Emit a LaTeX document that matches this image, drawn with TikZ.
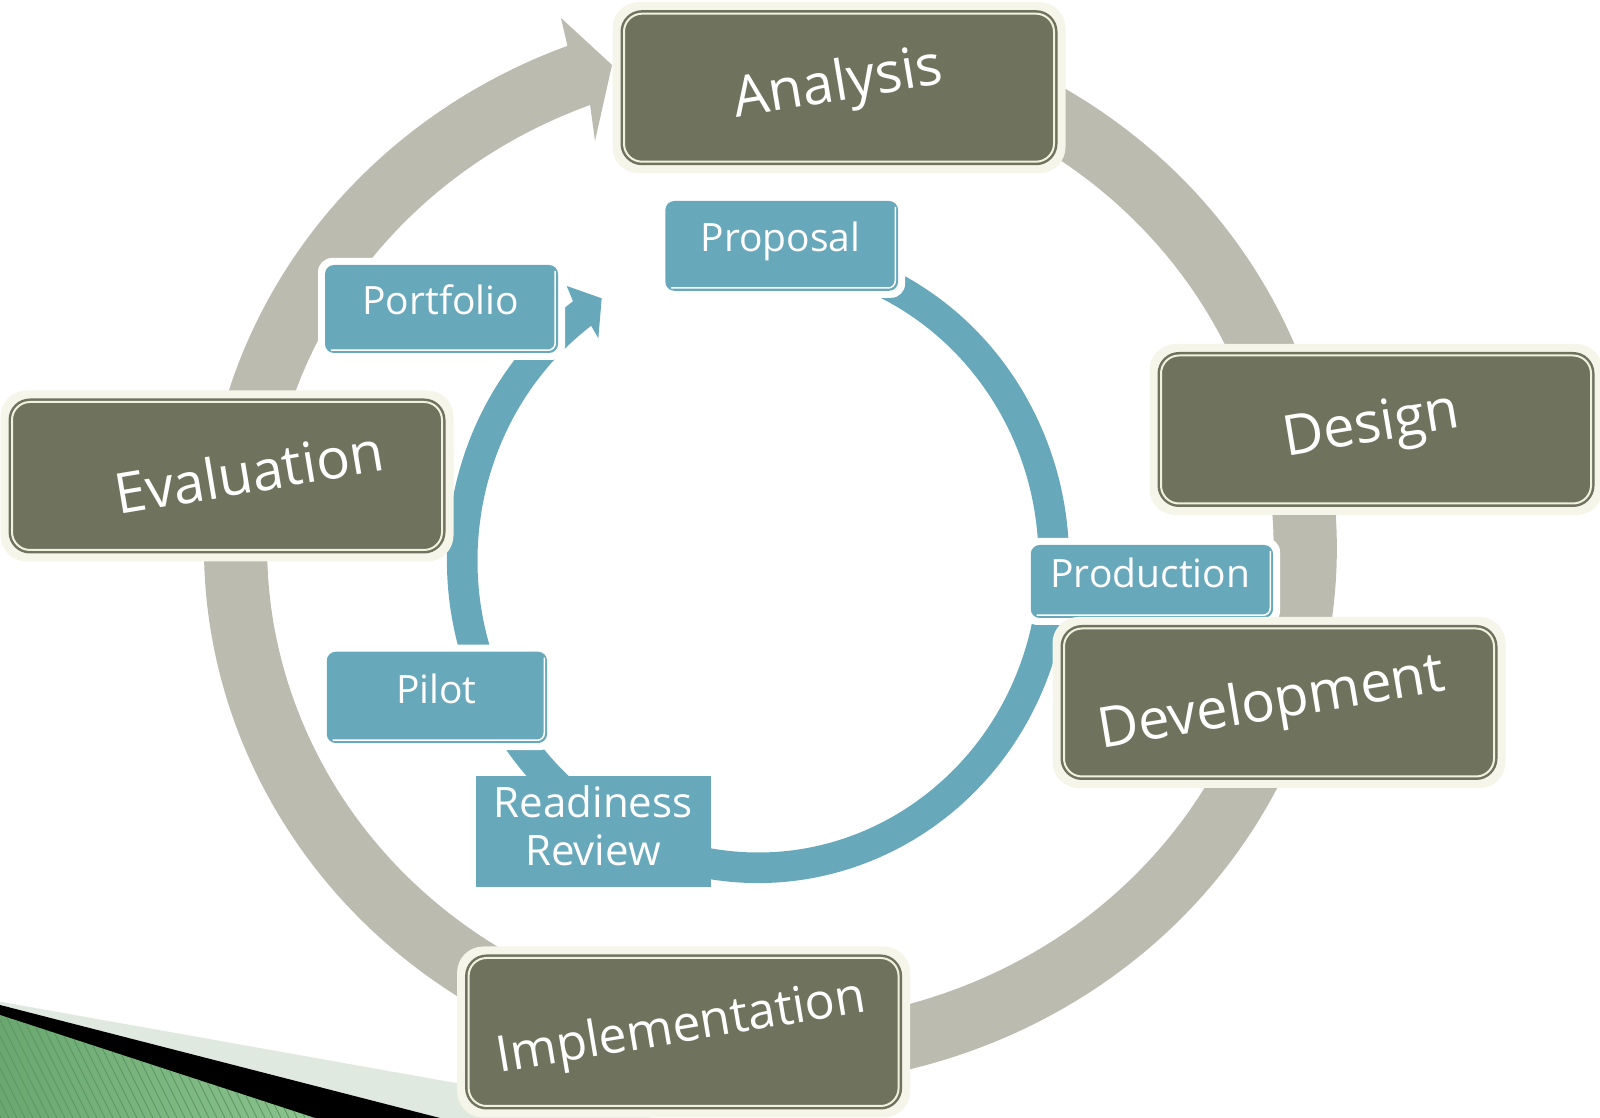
\documentclass[tikz,border=0pt]{standalone}
\usepackage{fontspec}
\setmainfont{Open Sans}
\usetikzlibrary{calc}
\definecolor{ringgray}{HTML}{BBBBB0}
\definecolor{ringblue}{HTML}{67A8BB}
\definecolor{olive}{HTML}{6F735E}
\definecolor{cream}{HTML}{F1F1DF}
\definecolor{glow}{HTML}{F5F5EA}
\definecolor{mint}{HTML}{DFE9DF}
\definecolor{leafl}{HTML}{8CC38E}
\definecolor{leafd}{HTML}{6AA870}
\definecolor{stripe}{HTML}{5C9563}
\newcommand{\OliveBox}[3]{%
  \fill[glow, rounded corners=26pt] (#2-226.5,#3-85.5) rectangle (#2+226.5,#3+85.5);
  \node[olivebox] (#1) at (#2,#3) {};}
\newcommand{\BlueBox}[5]{%
  \fill[white, rounded corners=14pt] (#2-#4/2-7,#3-#5/2-7) rectangle (#2+#4/2+7,#3+#5/2+7);
  \node[bluebox, minimum width=#4pt, minimum height=#5pt] (#1) at (#2,#3) {};
  \draw[white, line width=1.5pt, rounded corners=7pt] ($(#1.north east)+(-3,-6)$) -- ($(#1.south east)+(-3,3)$) -- ($(#1.south west)+(6,3)$);}
\begin{document}
\begin{tikzpicture}[x=1pt,y=1pt,
  olivebox/.style={rectangle, rounded corners=18pt, fill=olive, draw=olive, line width=2.5pt, double=cream, double distance=2pt, minimum width=430pt, minimum height=148pt, inner sep=0pt},
  bluebox/.style={rectangle, rounded corners=9pt, fill=ringblue, inner sep=0pt},
  olivetext/.style={text=white, font=\fontsize{56}{60}\selectfont, anchor=base, rotate=9.5, inner sep=0pt},
  bluetext/.style={text=white, font=\fontsize{39}{44}\selectfont, anchor=base, inner sep=0pt}]
\useasboundingbox (0,0) rectangle (1600,1118);
\fill[white] (0,0) rectangle (1600,1118);
% bottom-left decoration
\fill[mint] (0,116.3) -- (652,0) -- (0,0) -- cycle;
\fill[black] (0,113) -- (440,0) -- (0,0) -- cycle;
\begin{scope}
  \clip (0,103) -- (315,0) -- (0,0) -- cycle;
  \shade[left color=leafd, right color=leafl] (0,0) rectangle (320,110);
  \foreach \i in {-70,-62,...,330} \draw[stripe, line width=0.7pt] (\i,110) -- ++(55,-110);
\end{scope}
% gray cycle arrow
\coordinate (gc) at (770.4,570);
\fill[ringgray] ($(gc)+(65:566.3pt and 537.8pt)$) arc[start angle=65, end angle=-249, x radius=566.3pt, y radius=537.8pt]
  -- (561,1100) -- (612,1053) -- (595,977)
  -- ($(gc)+(-249:503.1pt and 474.5pt)$) arc[start angle=-249, end angle=65, x radius=503.1pt, y radius=474.5pt] -- cycle;
% blue cycle arrow
\coordinate (bc) at (758,557.5);
\fill[ringblue] ($(bc)+(70:311pt and 322.5pt)$) arc[start angle=70, end angle=-233.5, x radius=311pt, y radius=322.5pt]
  -- (566.7,832) -- (601.7,819.7) -- (598.3,779.7)
  -- ($(bc)+(-233.5:280.5pt and 292pt)$) arc[start angle=-233.5, end angle=70, x radius=280.5pt, y radius=292pt] -- cycle;
% blue boxes
\BlueBox{proposal}{781.7}{872.1}{232.7}{89.8}
\BlueBox{portfolio}{441.5}{809}{233}{88}
\BlueBox{production}{1151.9}{536.5}{242.3}{73}
\BlueBox{pilot}{436.9}{420.6}{220.3}{91.3}
\node[rectangle, fill=ringblue, minimum width=234.7pt, minimum height=110.7pt, inner sep=0pt] (readiness) at (593.4,286.6) {};
\node[bluetext] (proposal-t) at (780.6,866) {Proposal};
\node[bluetext] (portfolio-t) at (440.8,803) {Portfolio};
\node[bluetext] (production-t) at (1150.3,530.7) {Production};
\node[bluetext] (pilot-t) at (436.3,414) {Pilot};
\node[text=white, font=\fontsize{42}{48.7}\selectfont, align=center, inner sep=0pt] (readiness-t) at (593.1,292.3) {Readiness\\Review};
% olive boxes
\OliveBox{analysis}{839}{1030.3}
\OliveBox{design}{1376}{688.5}
\OliveBox{development}{1279}{415.5}
\OliveBox{implementation}{683.6}{86}
\OliveBox{evaluation}{227}{642}
\node[olivetext] (analysis-t) at (840.8,1017.7) {Analysis};
\node[olivetext] (design-t) at (1374,676) {Design};
\node[olivetext] (development-t) at (1274.5,398.6) {Development};
\node[olivetext, font=\fontsize{50}{56}\selectfont] (implementation-t) at (683.7,76) {Implementation};
\node[olivetext] (evaluation-t) at (252.5,625.5) {Evaluation};
\end{tikzpicture}
\end{document}
